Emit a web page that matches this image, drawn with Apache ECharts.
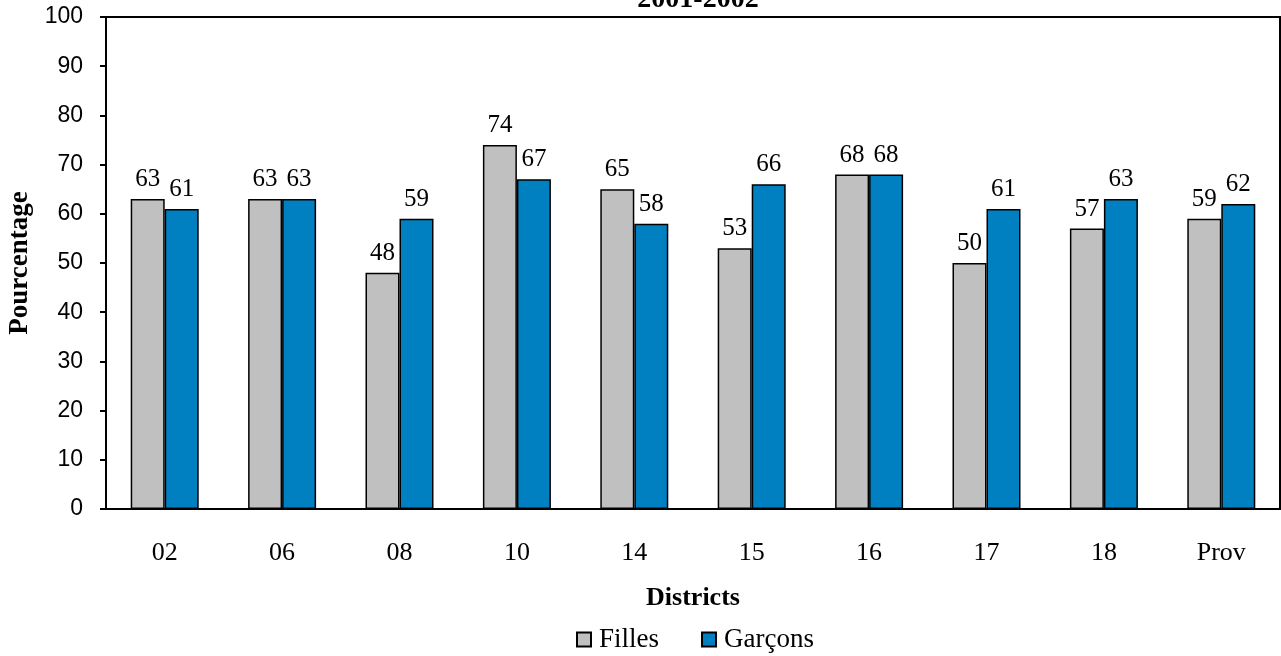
<!DOCTYPE html>
<html>
<head>
<meta charset="utf-8">
<script src="https://cdn.jsdelivr.net/npm/echarts@6/dist/echarts.min.js"></script>
<style>
html,body{margin:0;padding:0;background:#fff;}
#main{width:1281px;height:656px;}
</style>
</head>
<body>
<div id="main"></div>
<script>
var districts = ['02', '06', '08', '10', '14', '15', '16', '17', '18', 'Prov'];
var filles = [63, 63, 48, 74, 65, 53, 68, 50, 57, 59];
var garcons = [61, 63, 59, 67, 58, 66, 68, 61, 63, 62];

var chart = echarts.init(document.getElementById('main'));

// etiquettes au-dessus des barres
var lbl = {
    show: true,
    position: 'top',
    distance: 7,
    color: '#000',
    fontFamily: 'Liberation Serif',
    fontSize: 25
};

var option = {
    animation: false,
    backgroundColor: '#fff',
    title: {
        text: '2001-2002',
        left: 693,
        textAlign: 'center',
        top: -19,
        textStyle: {
            fontFamily: 'Liberation Serif',
            fontWeight: 'bold',
            fontSize: 28,
            color: '#000'
        }
    },
    legend: {
        data: ['Filles', 'Garçons'],
        top: 621,
        left: 571,
        itemWidth: 14,
        itemHeight: 14,
        itemGap: 42,
        icon: 'rect',
        itemStyle: {borderColor: '#000', borderWidth: 2},
        textStyle: {
            fontFamily: 'Liberation Serif',
            fontSize: 27,
            color: '#000',
            padding: [0, 0, 0, 3]
        }
    },
    grid: {
        left: 106,
        right: 1,
        top: 17,
        bottom: 147,
        outerBoundsMode: 'none',
        show: true,
        borderColor: '#000',
        borderWidth: 2,
        backgroundColor: 'transparent'
    },
    xAxis: {
        type: 'category',
        data: districts,
        name: 'Districts',
        nameLocation: 'middle',
        nameGap: 76,
        nameTextStyle: {
            fontFamily: 'Liberation Serif',
            fontWeight: 'bold',
            fontSize: 26,
            color: '#000'
        },
        axisLine: {lineStyle: {color: '#000', width: 2}},
        axisTick: {length: 11, lineStyle: {color: '#000', width: 2}},
        axisLabel: {
            color: '#000',
            fontFamily: 'Liberation Serif',
            fontSize: 26,
            margin: 31
        }
    },
    yAxis: {
        type: 'value',
        min: 0,
        max: 100,
        interval: 10,
        name: 'Pourcentage',
        nameLocation: 'middle',
        nameGap: 72,
        nameTextStyle: {
            fontFamily: 'Liberation Serif',
            fontWeight: 'bold',
            fontSize: 27,
            color: '#000'
        },
        splitLine: {show: false},
        axisLine: {show: true, lineStyle: {color: '#000', width: 2}},
        axisTick: {show: true, length: 6, lineStyle: {color: '#000', width: 2}},
        axisLabel: {
            color: '#000',
            fontFamily: 'Liberation Sans',
            fontSize: 23,
            margin: 23
        }
    },
    series: [
        {
            name: 'Filles',
            type: 'bar',
            data: filles,
            barWidth: 34,
            barGap: '0%',
            itemStyle: {color: '#C0C0C0', borderColor: '#000', borderWidth: 1.5},
            label: lbl
        },
        {
            name: 'Garçons',
            type: 'bar',
            data: garcons,
            barWidth: 34,
            barGap: '0%',
            itemStyle: {color: '#0080C0', borderColor: '#000', borderWidth: 1.5},
            label: lbl
        }
    ]
};
chart.setOption(option);
</script>
</body>
</html>
